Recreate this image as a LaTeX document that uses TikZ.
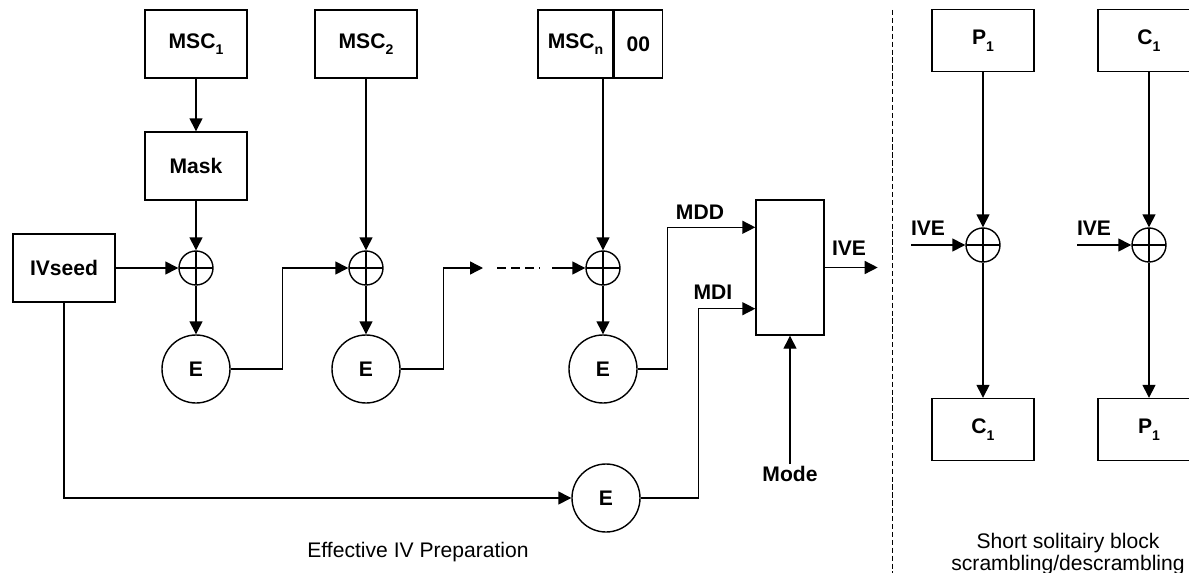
\documentclass[tikz,border=0pt]{standalone}
\usepackage{fontspec}
\setmainfont{Liberation Sans}
\usetikzlibrary{arrows.meta, positioning, calc}
\newcommand{\subidx}[1]{\raisebox{-0.6ex}{\fontsize{8}{8}\selectfont #1}}

\begin{document}
\begin{tikzpicture}[
      blk/.style={draw, line width=0.8pt, minimum width=2.04cm, minimum height=1.36cm, inner sep=0pt, font=\fontsize{12}{14}\selectfont\bfseries},
      enc/.style={draw, circle, line width=0.8pt, minimum size=1.36cm, inner sep=0pt, font=\fontsize{12}{14}\selectfont\bfseries},
      xor/.style={draw, circle, line width=0.8pt, minimum size=0.68cm, inner sep=0pt,
        path picture={\draw[line width=0.8pt] (path picture bounding box.north) -- (path picture bounding box.south)
          (path picture bounding box.west) -- (path picture bounding box.east);}},
      lbl/.style={font=\fontsize{12}{14}\selectfont\bfseries, inner sep=1pt},
      captxt/.style={font=\fontsize{12}{12.5}\selectfont, align=center},
      arrow/.style={-{Triangle[length=2.6mm, width=2.6mm]}, line width=0.8pt},
      wire/.style={line width=0.8pt}
    ]
      \useasboundingbox (0,0) rectangle (23.78,-11.46);
      % effective IV preparation
      \node[blk] (msc1) at (3.92,-0.88) {MSC\subidx{1}};
      \node[blk] (msc2) at (7.32,-0.88) {MSC\subidx{2}};
      \node[blk, minimum width=1.5cm] (mscn) at (11.51,-0.88) {MSC\subidx{n}};
      \node[blk, minimum width=0.96cm, right=0pt of mscn] (pad) {00};
      \node[blk] (mask) at (3.92,-3.32) {Mask};
      \node[blk] (ivseed) at (1.28,-5.36) {IVseed};
      \node[xor] (x1) at (3.92,-5.36) {};
      \node[xor] (x2) at (7.32,-5.36) {};
      \node[xor] (x3) at (12.06,-5.36) {};
      \node[enc] (e1) at (3.92,-7.38) {E};
      \node[enc] (e2) at (7.32,-7.38) {E};
      \node[enc] (e3) at (12.06,-7.38) {E};
      \node[enc] (e4) at (12.12,-9.96) {E};
      \node[draw, line width=0.8pt, minimum width=1.36cm, minimum height=2.7cm] (mux) at (15.8,-5.35) {};
      \node[lbl] (mode) at (15.8,-9.48) {Mode};
      \node[lbl] (mdd) at (14.0,-4.24) {MDD};
      \node[lbl] (mdi) at (14.26,-5.84) {MDI};
      \node[lbl] (ive) at (16.98,-4.96) {IVE};
      \coordinate (d1) at (9.66,-5.36);
      \coordinate (d2) at (9.94,-5.36);
      \coordinate (d3) at (10.8,-5.36);
      \coordinate (d4) at (11.04,-5.36);
      \draw[arrow] (msc1) -- (mask);
      \draw[arrow] (mask) -- (x1);
      \draw[arrow] (msc2) -- (x2);
      \draw[arrow] (mscn.south -| x3) -- (x3);
      \draw[arrow] (ivseed) -- (x1);
      \draw[arrow] (x1) -- (e1);
      \draw[arrow] (x2) -- (e2);
      \draw[arrow] (x3) -- (e3);
      \draw[arrow] (e1.east) -- ++(1.04,0) |- (x2.west);
      \draw[arrow] (e2.east) -- ++(0.86,0) |- (d1);
      \draw[wire, dash pattern=on 5pt off 3pt] (d2) -- (d3);
      \draw[arrow] (d4) -- (x3);
      \draw[arrow] (e3.east) -- ++(0.6,0) |- ([yshift=-0.56cm]mux.north west);
      \draw[arrow] (e4.east) -- ++(1.16,0) |- ([yshift=0.54cm]mux.south west);
      \draw[arrow] (ivseed.south) |- (e4.west);
      \draw[arrow] (mux.east) -- ++(1.06,0);
      \draw[arrow] (mode.north) -- (mux.south);
      \node[captxt] (cap1) at (8.36,-11.04) {Effective IV Preparation};
      % separator
      \coordinate (s1) at (17.84,-0.2);
      \coordinate (s2) at (17.84,-11.46);
      \draw[line width=0.5pt, dash pattern=on 3pt off 1.5pt] (s1) -- (s2);
      % short solitary block
      \node[blk, minimum height=1.24cm] (p1) at (19.66,-0.81) {P\subidx{1}};
      \node[blk, minimum height=1.24cm] (c1) at (22.98,-0.81) {C\subidx{1}};
      \node[xor] (xa) at (19.66,-4.9) {};
      \node[xor] (xb) at (22.98,-4.9) {};
      \node[blk, minimum height=1.24cm] (c1b) at (19.66,-8.59) {C\subidx{1}};
      \node[blk, minimum height=1.24cm] (p1b) at (22.98,-8.59) {P\subidx{1}};
      \coordinate (ia) at (18.22,-4.9);
      \coordinate (ib) at (21.54,-4.9);
      \node[lbl] (ivea) at (18.56,-4.56) {IVE};
      \node[lbl] (iveb) at (21.88,-4.56) {IVE};
      \draw[arrow] (p1) -- (xa);
      \draw[arrow] (xa) -- (c1b);
      \draw[arrow] (ia) -- (xa);
      \draw[arrow] (c1) -- (xb);
      \draw[arrow] (xb) -- (p1b);
      \draw[arrow] (ib) -- (xb);
      \node[captxt] (cap2) at (21.36,-11.08) {Short solitairy block\\scrambling/descrambling};
    \end{tikzpicture}
\end{document}
